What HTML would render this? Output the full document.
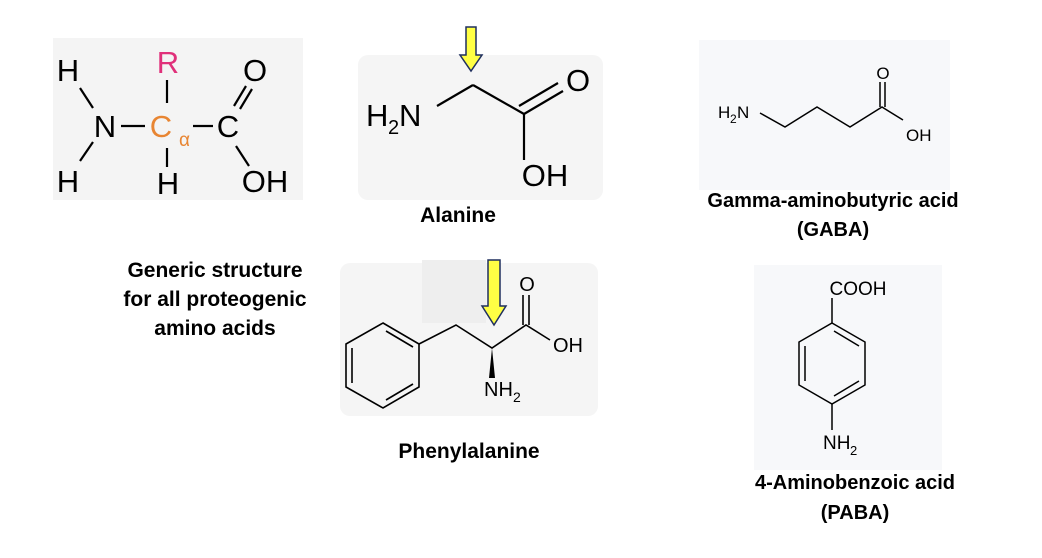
<!DOCTYPE html>
<html><head><style>
html,body{margin:0;padding:0;background:#fff;}
svg{display:block;}
text{font-family:"Liberation Sans",Arial,sans-serif;}
.lbl{font-family:"Liberation Sans",Arial,sans-serif;font-weight:bold;font-size:21px;fill:#000;}
.lbl2{font-family:"Liberation Sans",Arial,sans-serif;font-weight:bold;font-size:20px;fill:#000;}
</style></head><body>
<svg width="1042" height="558" viewBox="0 0 1042 558" xmlns="http://www.w3.org/2000/svg">
<!-- boxes -->
<rect x="53" y="38" width="250" height="162" fill="#f4f4f4"/>
<rect x="358" y="55" width="245" height="145" rx="10" fill="#f5f5f5"/>
<rect x="699" y="40" width="251" height="150" fill="#f7f8fa"/>
<rect x="340" y="263" width="258" height="153" rx="10" fill="#f5f5f5"/>
<rect x="422" y="260" width="64" height="63" fill="#eeeeee"/>
<rect x="754" y="265" width="188" height="205" fill="#f7f8fa"/>

<!-- generic structure -->
<g font-size="31" fill="#000" stroke="none">
<text x="68" y="81" text-anchor="middle">H</text>
<text x="168" y="73" text-anchor="middle" fill="#e0307a">R</text>
<text x="255" y="81" text-anchor="middle">O</text>
<text x="105" y="137" text-anchor="middle">N</text>
<text x="161" y="137" text-anchor="middle" fill="#e88532">C</text>
<text x="179" y="146" font-size="19" fill="#e88532">α</text>
<text x="228" y="137" text-anchor="middle">C</text>
<text x="68" y="192" text-anchor="middle">H</text>
<text x="168" y="194" text-anchor="middle">H</text>
<text x="265" y="192" text-anchor="middle">OH</text>
</g>
<g stroke="#000" stroke-width="2.2" fill="none">
<line x1="80" y1="88" x2="93" y2="108"/>
<line x1="80" y1="161" x2="93" y2="142"/>
<line x1="121" y1="126" x2="145" y2="126"/>
<line x1="193" y1="126" x2="213" y2="126"/>
<line x1="167" y1="80" x2="167" y2="103"/>
<line x1="167" y1="148" x2="167" y2="167"/>
<line x1="234" y1="106" x2="246" y2="86"/>
<line x1="240" y1="109" x2="252" y2="89"/>
<line x1="236" y1="146" x2="249" y2="166"/>
</g>

<!-- alanine -->
<g font-size="31" fill="#000">
<text x="366" y="126">H</text><text x="388" y="134" font-size="20">2</text><text x="399" y="126">N</text>
<text x="578" y="91" text-anchor="middle">O</text>
<text x="545" y="186" text-anchor="middle">OH</text>
</g>
<g stroke="#000" stroke-width="2.2" fill="none">
<line x1="437" y1="106" x2="473" y2="85"/>
<line x1="473" y1="85" x2="524" y2="114"/>
<line x1="524" y1="114" x2="563" y2="91"/>
<line x1="519" y1="106" x2="558" y2="83"/>
<line x1="524" y1="114" x2="524" y2="160"/>
</g>
<polygon points="466,27 476,27 476,55 482,55 471,71 460,55 466,55" fill="#ffff44" stroke="#1f2f5f" stroke-width="1.5"/>
<text class="lbl" x="458" y="222" text-anchor="middle">Alanine</text>

<!-- GABA -->
<g font-size="17" fill="#000">
<text x="718" y="118">H</text><text x="730" y="123" font-size="12">2</text><text x="737" y="118">N</text>
<text x="883" y="79" text-anchor="middle">O</text>
<text x="906" y="141">OH</text>
</g>
<g stroke="#000" stroke-width="1.5" fill="none">
<polyline points="760,113 785,127 817,107 850,127 882,107 903,120"/>
<line x1="880" y1="107" x2="880" y2="82"/>
<line x1="885" y1="107" x2="885" y2="82"/>
</g>
<text class="lbl2" x="833" y="207" text-anchor="middle">Gamma-aminobutyric acid</text>
<text class="lbl2" x="833" y="236" text-anchor="middle">(GABA)</text>

<!-- generic label -->
<text class="lbl" x="215" y="277" text-anchor="middle">Generic structure</text>
<text class="lbl" x="215" y="306" text-anchor="middle">for all proteogenic</text>
<text class="lbl" x="215" y="335" text-anchor="middle">amino acids</text>

<!-- phenylalanine -->
<g stroke="#000" stroke-width="1.6" fill="none">
<polygon points="383,323 419,344 419,387 383,408 346,387 346,344"/>
<line x1="352" y1="348" x2="352" y2="383"/>
<line x1="386" y1="331" x2="413" y2="347"/>
<line x1="386" y1="400" x2="413" y2="384"/>
<polyline points="419,344 456,325 492,348 526,325 550,340"/>
<line x1="523" y1="325" x2="523" y2="295"/>
<line x1="529" y1="325" x2="529" y2="295"/>
</g>
<polygon points="492,348 489,378 495,378" fill="#000"/>
<g font-size="20" fill="#000">
<text x="527" y="291" text-anchor="middle">O</text>
<text x="553" y="352">OH</text>
<text x="484" y="396">NH</text><text x="513" y="402" font-size="14">2</text>
</g>
<polygon points="488,260 500,260 500,306 506,306 494,325 482,306 488,306" fill="#ffff44" stroke="#1f2f5f" stroke-width="1.5"/>
<text class="lbl" x="469" y="458" text-anchor="middle">Phenylalanine</text>

<!-- PABA -->
<g stroke="#000" stroke-width="1.5" fill="none">
<polygon points="832,323 865,342 865,385 832,404 799,385 799,342"/>
<line x1="805" y1="346" x2="805" y2="381"/>
<line x1="834" y1="331" x2="859" y2="346"/>
<line x1="834" y1="396" x2="859" y2="381"/>
<line x1="832" y1="323" x2="832" y2="298"/>
<line x1="832" y1="404" x2="832" y2="430"/>
</g>
<g font-size="19" fill="#000">
<text x="858" y="295" text-anchor="middle">COOH</text>
<text x="823" y="449">NH</text><text x="850" y="455" font-size="13">2</text>
</g>
<text class="lbl2" x="855" y="489" text-anchor="middle">4-Aminobenzoic acid</text>
<text class="lbl2" x="855" y="519" text-anchor="middle">(PABA)</text>
</svg>
</body></html>
